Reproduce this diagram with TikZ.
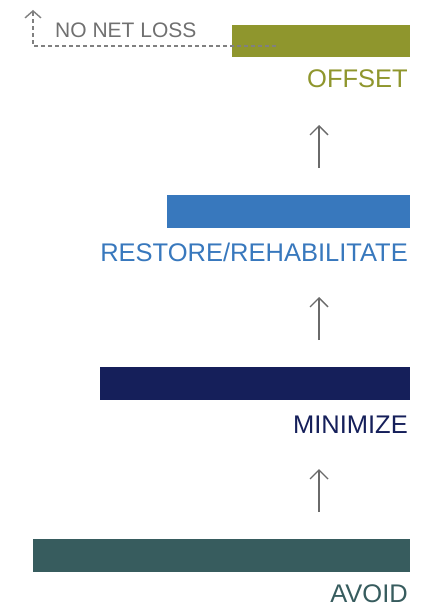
\documentclass[tikz,border=0pt]{standalone}
\usepackage{fontspec}
\setmainfont{Liberation Sans}
\usetikzlibrary{arrows.meta}
\definecolor{olive}{HTML}{8F962D}
\definecolor{rblue}{HTML}{3878BD}
\definecolor{navy}{HTML}{151F5A}
\definecolor{teal}{HTML}{375C5E}
\definecolor{tgray}{HTML}{707070}
\definecolor{agray}{HTML}{6A6A6A}
\tikzset{
  bar/.style={fill=#1, draw=none, inner sep=0, anchor=north east, minimum height=33pt},
  lab/.style={text=#1, inner sep=0, anchor=base east, font=\fontsize{25.5}{28}\selectfont},
  uparrow/.style={draw=agray, line width=1.4pt, -{Straight Barb[length=9pt,width=18pt,line width=1.4pt]}},
}
\begin{document}
\begin{tikzpicture}[x=1pt,y=-1pt]
\useasboundingbox (0,0) rectangle (426,607);
% bars
\node[bar=olive, minimum width=178pt, minimum height=32pt] (offbar) at (410,25) {};
\node[bar=rblue, minimum width=243pt] (resbar) at (410,195) {};
\node[bar=navy, minimum width=310pt] (minbar) at (410,367) {};
\node[bar=teal, minimum width=377pt] (avbar) at (410,539) {};
% labels
\node[lab=olive] (offlab) at (408,88) {OFFSET};
\node[lab=rblue] (reslab) at (408,261) {RESTORE/REHABILITATE};
\node[lab=navy] (minlab) at (408,433) {MINIMIZE};
\node[lab=teal] (avlab) at (408,602) {AVOID};
% no net loss
\node[text=tgray, inner sep=0, anchor=base west, font=\fontsize{21}{23}\selectfont] (nnl) at (55,38) {NO NET LOSS};
\coordinate (dstart) at (276,46);
\coordinate (dcorner) at (33,46);
\coordinate (dtip) at (33,10);
\draw[draw=agray!85, line width=1.4pt, dash pattern=on 4pt off 3pt,
  -{Straight Barb[length=7pt,width=16pt,line width=1.4pt]}] (dstart) -- (dcorner) -- (dtip);
% arrows
\coordinate (a1s) at (319,168); \coordinate (a1e) at (319,125);
\coordinate (a2s) at (319,340); \coordinate (a2e) at (319,297);
\coordinate (a3s) at (319,512); \coordinate (a3e) at (319,469);
\draw[uparrow] (a1s) -- (a1e);
\draw[uparrow] (a2s) -- (a2e);
\draw[uparrow] (a3s) -- (a3e);
\end{tikzpicture}
\end{document}
